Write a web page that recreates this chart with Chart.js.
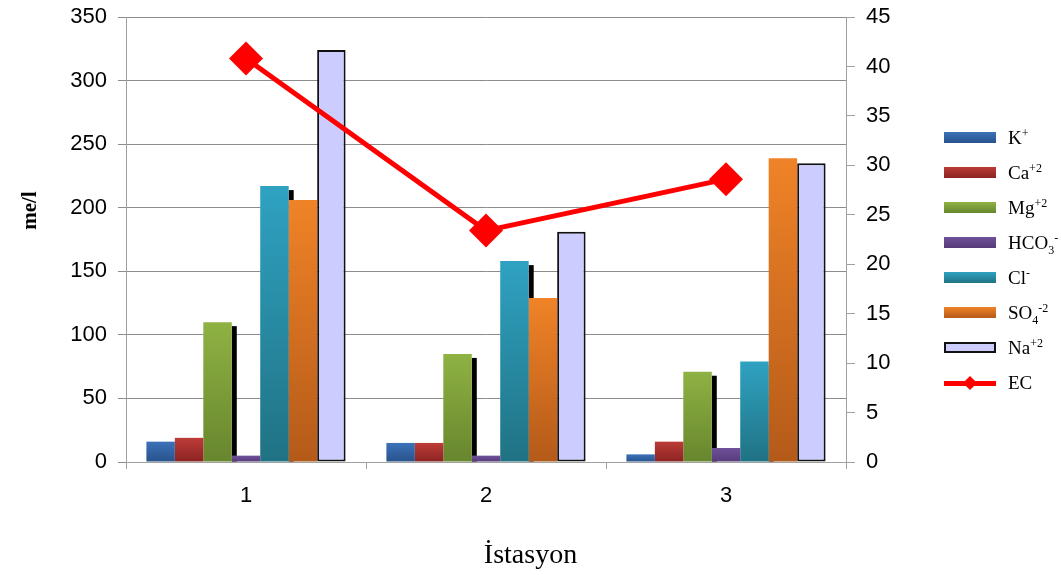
<!DOCTYPE html>
<html lang="tr">
<head>
  <meta charset="UTF-8" />
  <title>İstasyon iyon dağılımı</title>
  <script src="https://cdn.jsdelivr.net/npm/chart.js"></script>
  <style>
    body { margin: 0; background: #fff; }
    #wrap { position: relative; width: 1061px; height: 575px; }
    #legend { position: absolute; left: 944px; top: 120px; font-family: 'Liberation Serif', 'Times New Roman', serif; font-size: 19px; color: #000; }
    #legend .row { display: flex; align-items: center; height: 35px; }
    #legend .box { width: 52px; height: 11px; margin-right: 12px; box-sizing: border-box; position: relative; }
    #legend sup, #legend sub { font-size: 12px; line-height: 0; }
  </style>
</head>
<body>
  <div id="wrap">
    <canvas id="chart"></canvas>
    <div id="legend"></div>
  </div>

  <script>
    const stations = ['1', '2', '3'];

    // me/l
    const potassium = [16, 15, 6];
    const calcium = [19, 15, 16];
    const magnesium = [110, 85, 71];
    const bicarbonate = [5, 5, 11];
    const chloride = [217, 158, 79];
    const sulfate = [206, 129, 239];
    const sodium = [324, 181, 235];
    // EC, right axis
    const ec = [40.8, 23.4, 28.6];

    const seriesLabels = ['K+', 'Ca+2', 'Mg+2', 'HCO3-', 'Cl-', 'SO4-2', 'Na+2', 'EC'];
    const legendMarkup = ['K<sup>+</sup>', 'Ca<sup>+2</sup>', 'Mg<sup>+2</sup>', 'HCO<sub>3</sub><sup>-</sup>',
      'Cl<sup>-</sup>', 'SO<sub>4</sub><sup>-2</sup>', 'Na<sup>+2</sup>', 'EC'];
    // [top, bottom] of each bar's shading
    const barShades = [
      ['#3b72b8', '#28528c'],
      ['#bd3b37', '#8a2422'],
      ['#8fb243', '#67862e'],
      ['#6f519a', '#563b7a'],
      ['#2fa2c2', '#207283'],
      ['#f08327', '#b45a19'],
      ['#ccccff', '#ccccff']
    ];

    function shaded(i) {
      return ctx => {
        const chart = ctx.chart;
        if (ctx.type !== 'data' || !chart.chartArea) return barShades[i][0];
        const y = chart.scales.y;
        const top = y.getPixelForValue(ctx.raw);
        const base = y.getPixelForValue(0);
        if (base - top < 1) return barShades[i][0];
        const g = chart.ctx.createLinearGradient(0, top, 0, base);
        g.addColorStop(0, barShades[i][0]);
        g.addColorStop(1, barShades[i][1]);
        return g;
      };
    }

    const barValues = [potassium, calcium, magnesium, bicarbonate, chloride, sulfate, sodium];
    const datasets = barValues.map((values, i) => ({
      type: 'bar',
      label: seriesLabels[i],
      data: values,
      backgroundColor: shaded(i),
      borderColor: i === 6 ? '#111' : 'transparent',
      borderWidth: i === 6 ? 2 : 0,
      borderSkipped: false,
      yAxisID: 'y',
      order: 1,
      shadow: i === 2 || i === 4
    }));
    datasets.push({
      type: 'line',
      label: seriesLabels[7],
      data: ec,
      borderColor: '#ff0000',
      backgroundColor: '#ff0000',
      borderWidth: 5,
      pointStyle: 'rectRot',
      pointRadius: 17,
      pointHoverRadius: 17,
      pointBorderWidth: 0,
      yAxisID: 'y1',
      order: 0
    });

    // dark strip right of some bars, drawn under the other bars
    const barShadow = {
      id: 'barShadow',
      beforeDatasetsDraw(chart) {
        const c = chart.ctx;
        chart.data.datasets.forEach((ds, di) => {
          if (!ds.shadow) return;
          chart.getDatasetMeta(di).data.forEach(el => {
            const right = el.x + el.width / 2;
            c.fillStyle = '#000';
            c.fillRect(right, el.y + 4, 5, el.base - el.y - 4);
          });
        });
      }
    };

    const axisTitles = {
      id: 'axisTitles',
      afterDraw(chart) {
        const c = chart.ctx;
        const area = chart.chartArea;
        c.save();
        c.fillStyle = '#000';
        c.textAlign = 'center';
        c.textBaseline = 'middle';
        c.font = 'bold 21px "Liberation Serif", serif';
        c.translate(31, area.top + (area.bottom - area.top) * 0.435);
        c.rotate(-Math.PI / 2);
        c.fillText('me/l', 0, 0);
        c.restore();
        c.save();
        c.fillStyle = '#000';
        c.textAlign = 'center';
        c.textBaseline = 'alphabetic';
        c.font = '28px "Liberation Serif", serif';
        c.fillText('İstasyon', chart.width / 2, 563);
        c.restore();
      }
    };

    const htmlLegend = {
      id: 'htmlLegend',
      afterUpdate(chart) {
        const box = document.getElementById('legend');
        box.innerHTML = '';
        chart.data.datasets.forEach((ds, i) => {
          const row = document.createElement('div');
          row.className = 'row';
          const sw = document.createElement('div');
          sw.className = 'box';
          if (ds.type === 'line') {
            sw.style.height = '16px';
            sw.innerHTML = '<div style="position:absolute;left:0;right:0;top:6px;height:5px;background:#ff0000"></div>' +
              '<div style="position:absolute;left:21px;top:3px;width:10px;height:10px;background:#ff0000;transform:rotate(45deg)"></div>';
          } else {
            sw.style.background = `linear-gradient(${barShades[i][0]}, ${barShades[i][1]})`;
            if (ds.borderWidth) sw.style.border = '2px solid #111';
          }
          const txt = document.createElement('span');
          txt.innerHTML = legendMarkup[i];
          row.appendChild(sw);
          row.appendChild(txt);
          box.appendChild(row);
        });
      }
    };

    const tickFont = { family: '"Liberation Sans", Arial, sans-serif', size: 22 };

    // fixed side widths, and no extra room reserved for the end labels
    function fixWidth(w) {
      return s => { s.width = w; s.paddingTop = 0; s.paddingBottom = 0; };
    }

    new Chart(document.getElementById('chart'), {
      data: { labels: stations, datasets },
      options: {
        responsive: true,
        maintainAspectRatio: false,
        animation: false,
        layout: { padding: { top: 16, left: 0, right: 0, bottom: 0 } },
        datasets: { bar: { categoryPercentage: 0.83, barPercentage: 1.0 } },
        plugins: { legend: { display: false }, tooltip: { enabled: false } },
        scales: {
          x: {
            grid: { drawOnChartArea: false, drawTicks: true, tickLength: 7, color: '#a0a0a0', offset: true },
            border: { color: '#a0a0a0' },
            ticks: { font: tickFont, color: '#000', padding: 14 },
            afterFit: s => { s.height = 113; s.paddingLeft = 0; s.paddingRight = 0; }
          },
          y: {
            position: 'left',
            min: 0, max: 350,
            ticks: { stepSize: 50, font: tickFont, color: '#000', padding: 11 },
            grid: { color: '#8c8c8c', tickLength: 8 },
            border: { color: '#a0a0a0' },
            afterFit: fixWidth(126)
          },
          y1: {
            position: 'right',
            min: 0, max: 45,
            ticks: { stepSize: 5, font: tickFont, color: '#000', padding: 11 },
            grid: { drawOnChartArea: false, color: '#a0a0a0', tickLength: 9 },
            border: { color: '#a0a0a0' },
            afterFit: fixWidth(215)
          }
        }
      },
      plugins: [barShadow, axisTitles, htmlLegend]
    });
  </script>
</body>
</html>
